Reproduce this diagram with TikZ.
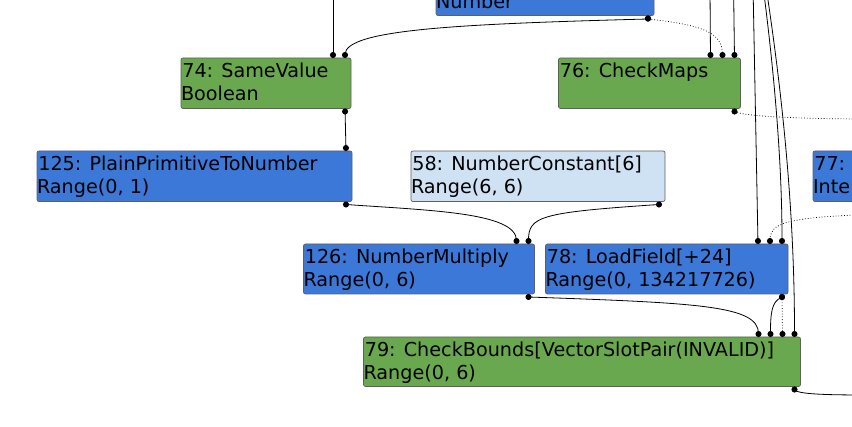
\documentclass[tikz,border=0pt]{standalone}
\usepackage{fontspec}
\setmainfont{DejaVu Sans}
\usetikzlibrary{arrows.meta}
\definecolor{ngreen}{HTML}{6AA84F}
\definecolor{nblue}{HTML}{3C78D8}
\definecolor{nlight}{HTML}{CFE2F3}
\definecolor{nborder}{HTML}{5F5F5F}
\newcommand{\nodetext}[3]{\parbox[t][#2pt][t]{#1pt}{\hspace*{1.3pt}\rule{0pt}{20pt}#3}}
\begin{document}
\begin{tikzpicture}[x=1pt,y=-1pt,
  gbox/.style={draw=nborder, line width=0.7pt, rounded corners=2pt, inner sep=0pt, outer sep=0pt, anchor=north west, font=\fontsize{19.2}{23}\selectfont},
  edge/.style={line width=0.8pt, {Circle[length=6pt]}-{Circle[length=6pt]}},
  inedge/.style={line width=0.8pt, -{Circle[length=6pt]}},
  outedge/.style={line width=0.8pt, {Circle[length=6pt]}-},
  dots/.style={dotted, line width=0.7pt}]
\clip (0,0) rectangle (852,427);
% nodes
\node[gbox, fill=nblue] (nNum) at (436,-34.5) {\nodetext{218}{50}{\\Number}};
\node[gbox, fill=ngreen] (n74) at (181,58) {\nodetext{170}{50.5}{74: SameValue\\Boolean}};
\node[gbox, fill=ngreen] (n76) at (558.5,58) {\nodetext{182}{50.5}{76: CheckMaps}};
\node[gbox, fill=nblue] (n125) at (37,151) {\nodetext{315}{50.5}{125: PlainPrimitiveToNumber\\Range(0, 1)}};
\node[gbox, fill=nlight] (n58) at (411,151) {\nodetext{254}{50.5}{58: NumberConstant[6]\\Range(6, 6)}};
\node[gbox, fill=nblue] (n77) at (813,151) {\nodetext{200}{50.5}{77:\\Inte}};
\node[gbox, fill=nblue] (n126) at (303.5,244) {\nodetext{231}{50}{126: NumberMultiply\\Range(0, 6)}};
\node[gbox, fill=nblue] (n78) at (545.5,244) {\nodetext{242.5}{50}{78: LoadField[+24]\\Range(0, 134217726)}};
\node[gbox, fill=ngreen] (n79) at (363.5,337) {\nodetext{437}{49.5}{79: CheckBounds[VectorSlotPair(INVALID)]\\Range(0, 6)}};
% free ends
\coordinate (t74) at (333,-10);
\coordinate (t76a) at (710,-10);
\coordinate (t76c) at (733.6,-10);
\coordinate (t78a) at (753.1,-10);
\coordinate (t78c) at (763.5,-10);
\coordinate (t79) at (766.5,-10);
\coordinate (r76) at (870,119);
\coordinate (r78) at (870,214.5);
\coordinate (r79) at (870,395);
% edges
\draw[inedge] (t74) -- ([xshift=-18pt]n74.north east);
\draw[edge] ([xshift=-6pt]nNum.south east) -- ++(0,3.5) .. controls +(-190,5) and +(0,-25) .. ([xshift=-6pt,yshift=3.5pt]n74.north east) -- ([xshift=-6pt]n74.north east);
\draw[edge,dots] ([xshift=-6pt]nNum.south east) -- ++(0,3.5) .. controls +(55,6) and +(0,-22) .. ([xshift=-18pt,yshift=3.5pt]n76.north east) -- ([xshift=-18pt]n76.north east);
\draw[inedge] (t76a) -- ([xshift=-30pt]n76.north east);
\draw[inedge] (t76c) -- ([xshift=-6pt]n76.north east);
\draw[outedge,dots] ([xshift=-6pt]n76.south east) -- ++(0,3) .. controls +(6,4) and +(-80,0) .. (r76);
\draw[edge] ([xshift=-6pt]n74.south east) -- ([xshift=-6pt]n125.north east);
\draw[edge] ([xshift=-6pt]n125.south east) -- ++(0,3) .. controls +(85,6) and +(0,-28) .. ([xshift=-18pt,yshift=3.5pt]n126.north east) -- ([xshift=-18pt]n126.north east);
\draw[edge] ([xshift=-6pt]n58.south east) -- ++(0,3) .. controls +(-120,8) and +(0,-24) .. ([xshift=-6pt,yshift=3.5pt]n126.north east) -- ([xshift=-6pt]n126.north east);
\draw[edge] ([xshift=-6pt]n126.south east) -- ++(0,3) .. controls +(170,6) and +(0,-28) .. ([xshift=-42pt,yshift=3.5pt]n79.north east) -- ([xshift=-42pt]n79.north east);
\draw[inedge] (t78a) -- ([xshift=-30pt]n78.north east);
\draw[inedge,dots] (r78) .. controls +(-90,3) and +(0,-16) .. ([xshift=-18pt,yshift=3.5pt]n78.north east) -- ([xshift=-18pt]n78.north east);
\draw[inedge] (t78c) .. controls +(9,70) and +(0,-90) .. ([xshift=-6pt]n78.north east);
\draw[edge] ([xshift=-6pt]n78.south east) -- ++(0,3.5) .. controls +(-11,3) and +(0,-18) .. ([xshift=-30pt,yshift=3.5pt]n79.north east) -- ([xshift=-30pt]n79.north east);
\draw[edge,dots] ([xshift=-6pt]n78.south east) -- ([xshift=-18pt]n79.north east);
\draw[inedge] (t79) .. controls +(13.5,90) and +(0,-137) .. ([xshift=-6pt]n79.north east);
\draw[outedge] ([xshift=-6pt]n79.south east) -- ++(0,3) .. controls +(2,5) and +(-40,0) .. (r79);
\end{tikzpicture}
\end{document}
